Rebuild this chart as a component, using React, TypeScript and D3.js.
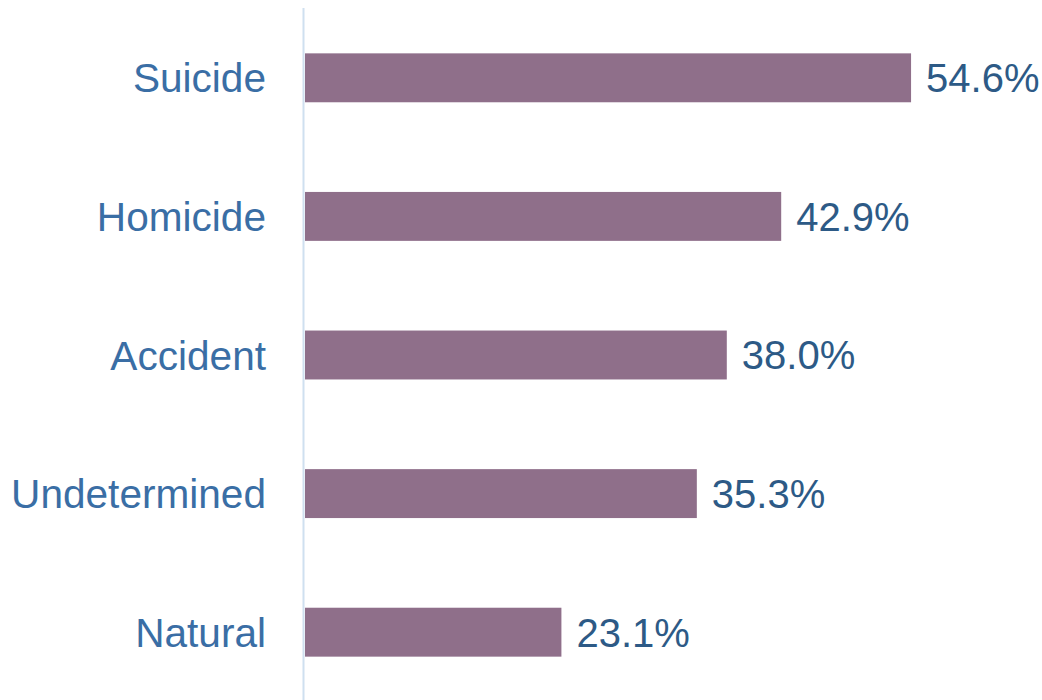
import React from "react";
import * as d3 from "d3";

const categories = ["Suicide", "Homicide", "Accident", "Undetermined", "Natural"];
const values = [54.6, 42.9, 38.0, 35.3, 23.1];

const W = 1042;
const H = 700;

export default function App() {
  const x = d3.scaleLinear().domain([0, 60]).range([305, 971]);
  const y = d3
    .scaleBand<string>()
    .domain(categories)
    .range([9, 701])
    .paddingInner(0.647)
    .paddingOuter(0.32);
  const font = "'Liberation Sans', Arial, sans-serif";
  return (
    <svg
      width={W}
      height={H}
      style={{ position: "absolute", left: 0, top: 0, background: "#fff" }}
    >
      <line x1={303.5} x2={303.5} y1={8} y2={H} stroke="#cfe0f0" strokeWidth={2} />
      {categories.map((c, i) => {
        const yc = (y(c) as number) + y.bandwidth() / 2;
        return (
          <g key={c}>
            <rect
              x={x(0)}
              y={y(c)}
              width={x(values[i]) - x(0)}
              height={y.bandwidth()}
              fill="#8f6f8a"
            />
            <text
              x={266}
              y={yc}
              dy="0.36em"
              textAnchor="end"
              fontFamily={font}
              fontSize={40.6}
              fill="#3a6ea5"
            >
              {c}
            </text>
            <text
              x={x(values[i]) + 15}
              y={yc}
              dy="0.36em"
              textAnchor="start"
              fontFamily={font}
              fontSize={40}
              fill="#2d5a86"
            >
              {values[i].toFixed(1) + "%"}
            </text>
          </g>
        );
      })}
    </svg>
  );
}
